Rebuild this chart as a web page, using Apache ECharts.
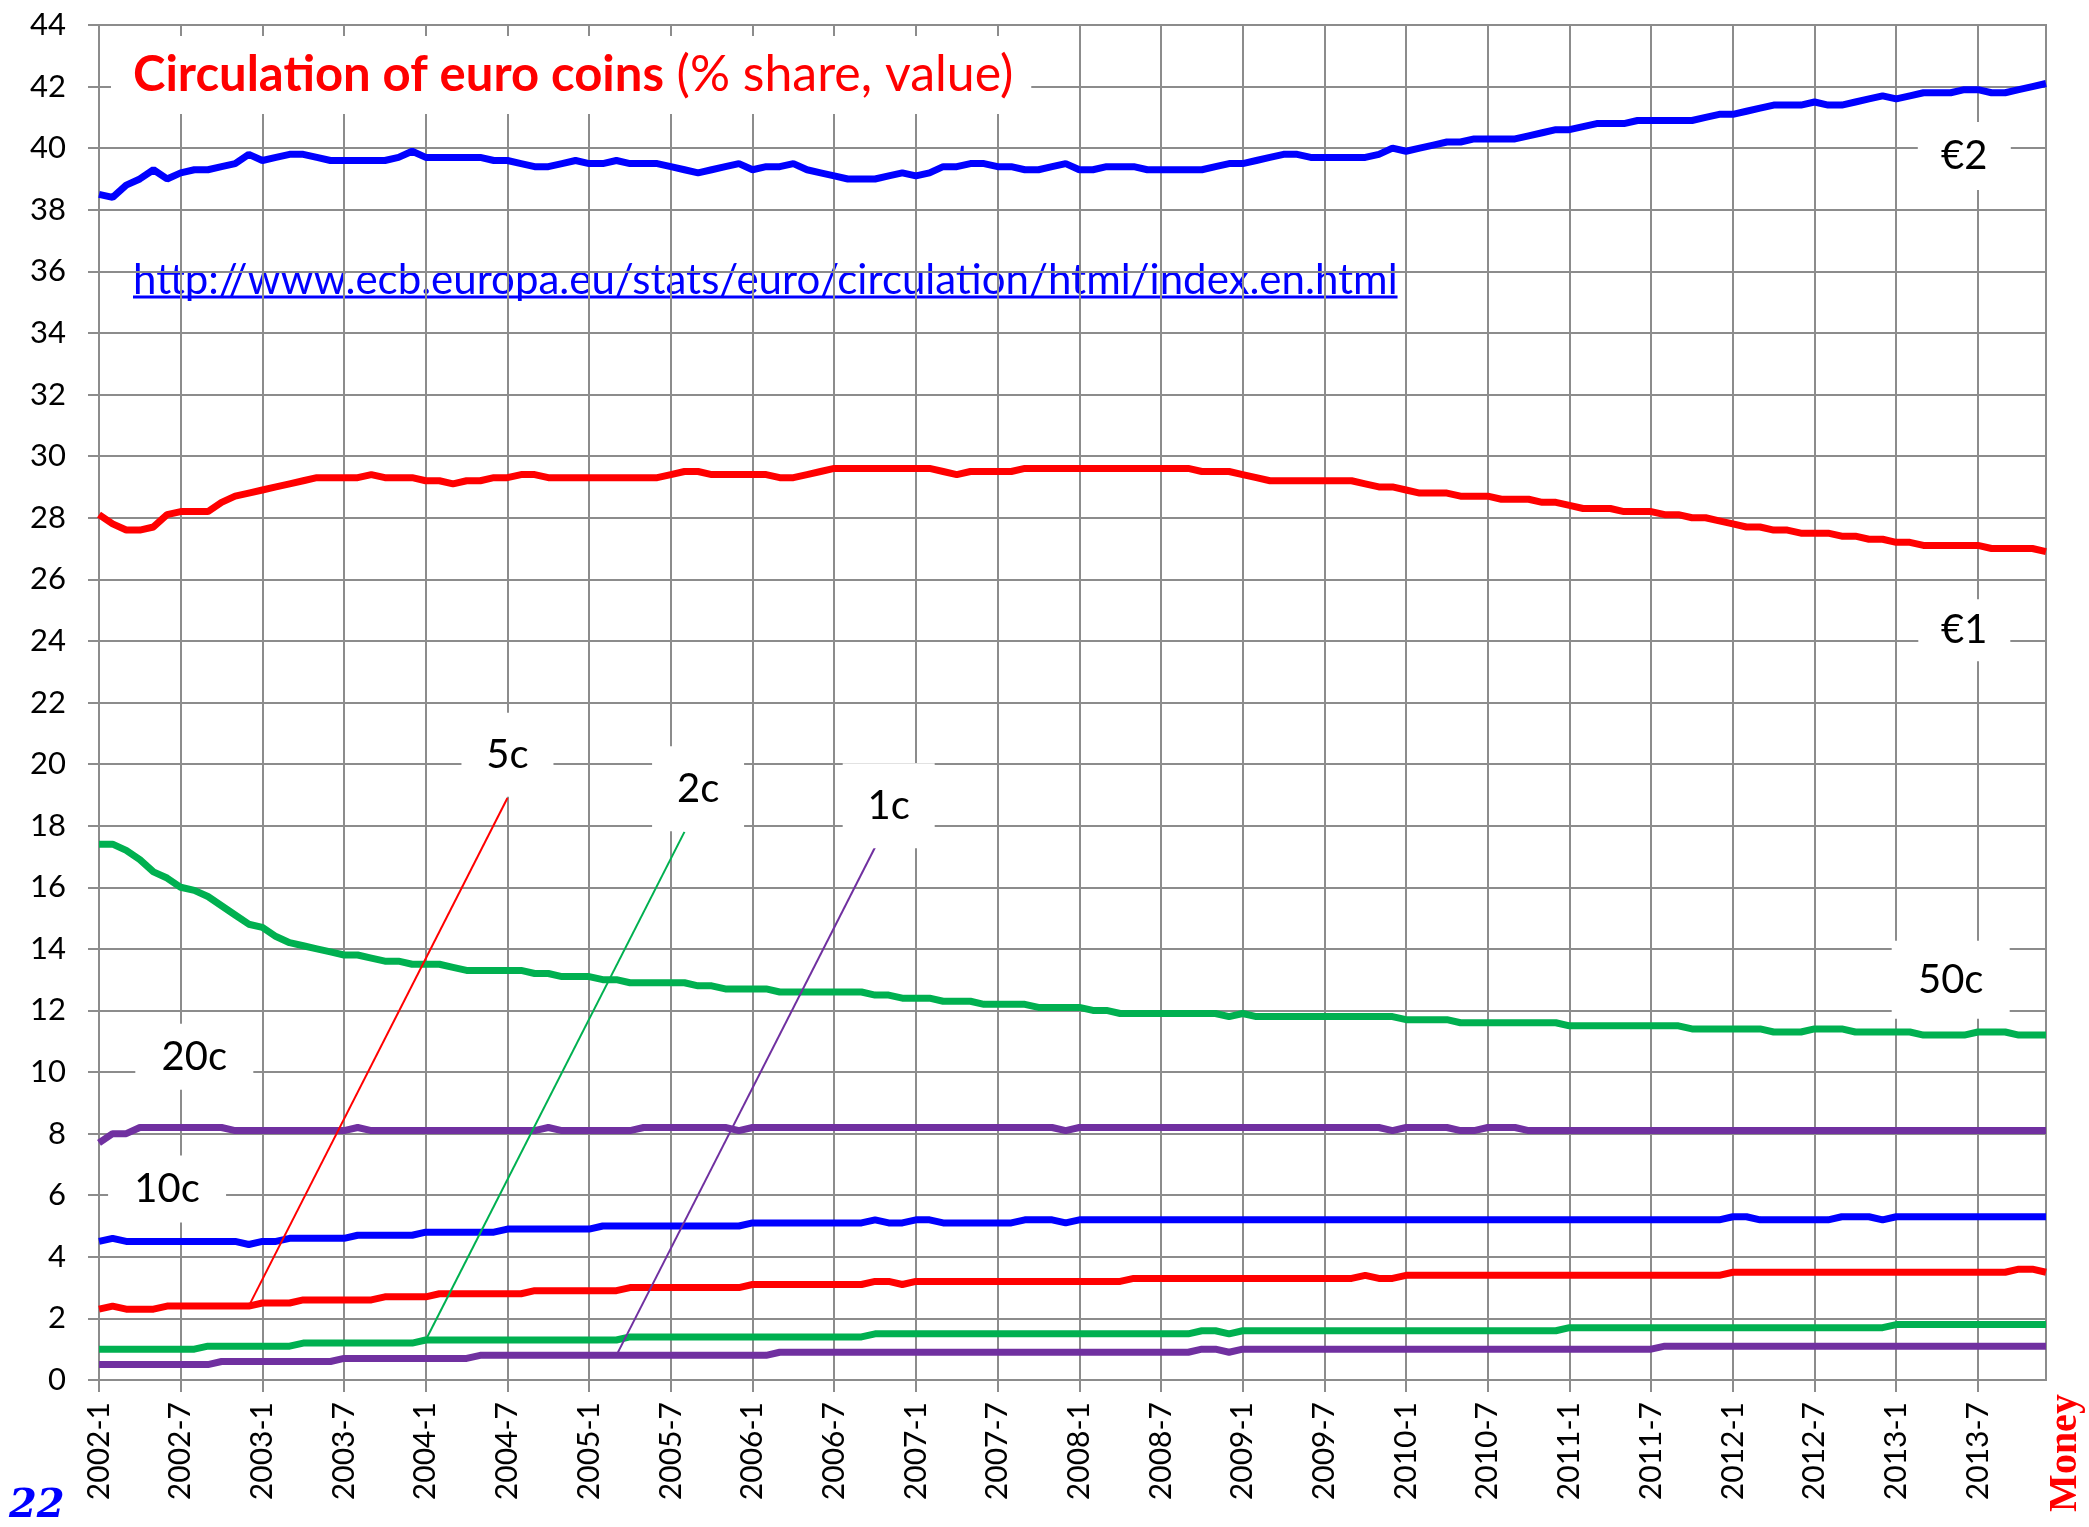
<!DOCTYPE html>
<html>
<head>
<meta charset="utf-8">
<title>Circulation of euro coins</title>
<script src="https://cdn.jsdelivr.net/npm/echarts@6/dist/echarts.min.js"></script>
<style>
html, body { margin: 0; padding: 0; background: #fff; }
#chart { width: 2089px; height: 1527px; }
</style>
</head>
<body>
<div id="chart"></div>
<script>
var years = [2002, 2003, 2004, 2005, 2006, 2007, 2008, 2009, 2010, 2011, 2012, 2013];
var months = [];
years.forEach(function (y) {
	for (var m = 1; m <= 12; m++) months.push(y + '-' + m);
});

var yMin = 0, yMax = 44, yStep = 2;

// % share of value, monthly 2002-1 .. 2013-12
var euro2 = [
	38.5, 38.4, 38.8, 39.0, 39.3, 39.0, 39.2, 39.3, 39.3, 39.4, 39.5, 39.8,
	39.6, 39.7, 39.8, 39.8, 39.7, 39.6, 39.6, 39.6, 39.6, 39.6, 39.7, 39.9,
	39.7, 39.7, 39.7, 39.7, 39.7, 39.6, 39.6, 39.5, 39.4, 39.4, 39.5, 39.6,
	39.5, 39.5, 39.6, 39.5, 39.5, 39.5, 39.4, 39.3, 39.2, 39.3, 39.4, 39.5,
	39.3, 39.4, 39.4, 39.5, 39.3, 39.2, 39.1, 39.0, 39.0, 39.0, 39.1, 39.2,
	39.1, 39.2, 39.4, 39.4, 39.5, 39.5, 39.4, 39.4, 39.3, 39.3, 39.4, 39.5,
	39.3, 39.3, 39.4, 39.4, 39.4, 39.3, 39.3, 39.3, 39.3, 39.3, 39.4, 39.5,
	39.5, 39.6, 39.7, 39.8, 39.8, 39.7, 39.7, 39.7, 39.7, 39.7, 39.8, 40.0,
	39.9, 40.0, 40.1, 40.2, 40.2, 40.3, 40.3, 40.3, 40.3, 40.4, 40.5, 40.6,
	40.6, 40.7, 40.8, 40.8, 40.8, 40.9, 40.9, 40.9, 40.9, 40.9, 41.0, 41.1,
	41.1, 41.2, 41.3, 41.4, 41.4, 41.4, 41.5, 41.4, 41.4, 41.5, 41.6, 41.7,
	41.6, 41.7, 41.8, 41.8, 41.8, 41.9, 41.9, 41.8, 41.8, 41.9, 42.0, 42.1
];
var euro1 = [
	28.1, 27.8, 27.6, 27.6, 27.7, 28.1, 28.2, 28.2, 28.2, 28.5, 28.7, 28.8,
	28.9, 29.0, 29.1, 29.2, 29.3, 29.3, 29.3, 29.3, 29.4, 29.3, 29.3, 29.3,
	29.2, 29.2, 29.1, 29.2, 29.2, 29.3, 29.3, 29.4, 29.4, 29.3, 29.3, 29.3,
	29.3, 29.3, 29.3, 29.3, 29.3, 29.3, 29.4, 29.5, 29.5, 29.4, 29.4, 29.4,
	29.4, 29.4, 29.3, 29.3, 29.4, 29.5, 29.6, 29.6, 29.6, 29.6, 29.6, 29.6,
	29.6, 29.6, 29.5, 29.4, 29.5, 29.5, 29.5, 29.5, 29.6, 29.6, 29.6, 29.6,
	29.6, 29.6, 29.6, 29.6, 29.6, 29.6, 29.6, 29.6, 29.6, 29.5, 29.5, 29.5,
	29.4, 29.3, 29.2, 29.2, 29.2, 29.2, 29.2, 29.2, 29.2, 29.1, 29.0, 29.0,
	28.9, 28.8, 28.8, 28.8, 28.7, 28.7, 28.7, 28.6, 28.6, 28.6, 28.5, 28.5,
	28.4, 28.3, 28.3, 28.3, 28.2, 28.2, 28.2, 28.1, 28.1, 28.0, 28.0, 27.9,
	27.8, 27.7, 27.7, 27.6, 27.6, 27.5, 27.5, 27.5, 27.4, 27.4, 27.3, 27.3,
	27.2, 27.2, 27.1, 27.1, 27.1, 27.1, 27.1, 27.0, 27.0, 27.0, 27.0, 26.9
];
var c50 = [
	17.4, 17.4, 17.2, 16.9, 16.5, 16.3, 16.0, 15.9, 15.7, 15.4, 15.1, 14.8,
	14.7, 14.4, 14.2, 14.1, 14.0, 13.9, 13.8, 13.8, 13.7, 13.6, 13.6, 13.5,
	13.5, 13.5, 13.4, 13.3, 13.3, 13.3, 13.3, 13.3, 13.2, 13.2, 13.1, 13.1,
	13.1, 13.0, 13.0, 12.9, 12.9, 12.9, 12.9, 12.9, 12.8, 12.8, 12.7, 12.7,
	12.7, 12.7, 12.6, 12.6, 12.6, 12.6, 12.6, 12.6, 12.6, 12.5, 12.5, 12.4,
	12.4, 12.4, 12.3, 12.3, 12.3, 12.2, 12.2, 12.2, 12.2, 12.1, 12.1, 12.1,
	12.1, 12.0, 12.0, 11.9, 11.9, 11.9, 11.9, 11.9, 11.9, 11.9, 11.9, 11.8,
	11.9, 11.8, 11.8, 11.8, 11.8, 11.8, 11.8, 11.8, 11.8, 11.8, 11.8, 11.8,
	11.7, 11.7, 11.7, 11.7, 11.6, 11.6, 11.6, 11.6, 11.6, 11.6, 11.6, 11.6,
	11.5, 11.5, 11.5, 11.5, 11.5, 11.5, 11.5, 11.5, 11.5, 11.4, 11.4, 11.4,
	11.4, 11.4, 11.4, 11.3, 11.3, 11.3, 11.4, 11.4, 11.4, 11.3, 11.3, 11.3,
	11.3, 11.3, 11.2, 11.2, 11.2, 11.2, 11.3, 11.3, 11.3, 11.2, 11.2, 11.2
];
var c20 = [
	7.7, 8.0, 8.0, 8.2, 8.2, 8.2, 8.2, 8.2, 8.2, 8.2, 8.1, 8.1,
	8.1, 8.1, 8.1, 8.1, 8.1, 8.1, 8.1, 8.2, 8.1, 8.1, 8.1, 8.1,
	8.1, 8.1, 8.1, 8.1, 8.1, 8.1, 8.1, 8.1, 8.1, 8.2, 8.1, 8.1,
	8.1, 8.1, 8.1, 8.1, 8.2, 8.2, 8.2, 8.2, 8.2, 8.2, 8.2, 8.1,
	8.2, 8.2, 8.2, 8.2, 8.2, 8.2, 8.2, 8.2, 8.2, 8.2, 8.2, 8.2,
	8.2, 8.2, 8.2, 8.2, 8.2, 8.2, 8.2, 8.2, 8.2, 8.2, 8.2, 8.1,
	8.2, 8.2, 8.2, 8.2, 8.2, 8.2, 8.2, 8.2, 8.2, 8.2, 8.2, 8.2,
	8.2, 8.2, 8.2, 8.2, 8.2, 8.2, 8.2, 8.2, 8.2, 8.2, 8.2, 8.1,
	8.2, 8.2, 8.2, 8.2, 8.1, 8.1, 8.2, 8.2, 8.2, 8.1, 8.1, 8.1,
	8.1, 8.1, 8.1, 8.1, 8.1, 8.1, 8.1, 8.1, 8.1, 8.1, 8.1, 8.1,
	8.1, 8.1, 8.1, 8.1, 8.1, 8.1, 8.1, 8.1, 8.1, 8.1, 8.1, 8.1,
	8.1, 8.1, 8.1, 8.1, 8.1, 8.1, 8.1, 8.1, 8.1, 8.1, 8.1, 8.1
];
var c10 = [
	4.5, 4.6, 4.5, 4.5, 4.5, 4.5, 4.5, 4.5, 4.5, 4.5, 4.5, 4.4,
	4.5, 4.5, 4.6, 4.6, 4.6, 4.6, 4.6, 4.7, 4.7, 4.7, 4.7, 4.7,
	4.8, 4.8, 4.8, 4.8, 4.8, 4.8, 4.9, 4.9, 4.9, 4.9, 4.9, 4.9,
	4.9, 5.0, 5.0, 5.0, 5.0, 5.0, 5.0, 5.0, 5.0, 5.0, 5.0, 5.0,
	5.1, 5.1, 5.1, 5.1, 5.1, 5.1, 5.1, 5.1, 5.1, 5.2, 5.1, 5.1,
	5.2, 5.2, 5.1, 5.1, 5.1, 5.1, 5.1, 5.1, 5.2, 5.2, 5.2, 5.1,
	5.2, 5.2, 5.2, 5.2, 5.2, 5.2, 5.2, 5.2, 5.2, 5.2, 5.2, 5.2,
	5.2, 5.2, 5.2, 5.2, 5.2, 5.2, 5.2, 5.2, 5.2, 5.2, 5.2, 5.2,
	5.2, 5.2, 5.2, 5.2, 5.2, 5.2, 5.2, 5.2, 5.2, 5.2, 5.2, 5.2,
	5.2, 5.2, 5.2, 5.2, 5.2, 5.2, 5.2, 5.2, 5.2, 5.2, 5.2, 5.2,
	5.3, 5.3, 5.2, 5.2, 5.2, 5.2, 5.2, 5.2, 5.3, 5.3, 5.3, 5.2,
	5.3, 5.3, 5.3, 5.3, 5.3, 5.3, 5.3, 5.3, 5.3, 5.3, 5.3, 5.3
];
var c5 = [
	2.3, 2.4, 2.3, 2.3, 2.3, 2.4, 2.4, 2.4, 2.4, 2.4, 2.4, 2.4,
	2.5, 2.5, 2.5, 2.6, 2.6, 2.6, 2.6, 2.6, 2.6, 2.7, 2.7, 2.7,
	2.7, 2.8, 2.8, 2.8, 2.8, 2.8, 2.8, 2.8, 2.9, 2.9, 2.9, 2.9,
	2.9, 2.9, 2.9, 3.0, 3.0, 3.0, 3.0, 3.0, 3.0, 3.0, 3.0, 3.0,
	3.1, 3.1, 3.1, 3.1, 3.1, 3.1, 3.1, 3.1, 3.1, 3.2, 3.2, 3.1,
	3.2, 3.2, 3.2, 3.2, 3.2, 3.2, 3.2, 3.2, 3.2, 3.2, 3.2, 3.2,
	3.2, 3.2, 3.2, 3.2, 3.3, 3.3, 3.3, 3.3, 3.3, 3.3, 3.3, 3.3,
	3.3, 3.3, 3.3, 3.3, 3.3, 3.3, 3.3, 3.3, 3.3, 3.4, 3.3, 3.3,
	3.4, 3.4, 3.4, 3.4, 3.4, 3.4, 3.4, 3.4, 3.4, 3.4, 3.4, 3.4,
	3.4, 3.4, 3.4, 3.4, 3.4, 3.4, 3.4, 3.4, 3.4, 3.4, 3.4, 3.4,
	3.5, 3.5, 3.5, 3.5, 3.5, 3.5, 3.5, 3.5, 3.5, 3.5, 3.5, 3.5,
	3.5, 3.5, 3.5, 3.5, 3.5, 3.5, 3.5, 3.5, 3.5, 3.6, 3.6, 3.5
];
var c2 = [
	1.0, 1.0, 1.0, 1.0, 1.0, 1.0, 1.0, 1.0, 1.1, 1.1, 1.1, 1.1,
	1.1, 1.1, 1.1, 1.2, 1.2, 1.2, 1.2, 1.2, 1.2, 1.2, 1.2, 1.2,
	1.3, 1.3, 1.3, 1.3, 1.3, 1.3, 1.3, 1.3, 1.3, 1.3, 1.3, 1.3,
	1.3, 1.3, 1.3, 1.4, 1.4, 1.4, 1.4, 1.4, 1.4, 1.4, 1.4, 1.4,
	1.4, 1.4, 1.4, 1.4, 1.4, 1.4, 1.4, 1.4, 1.4, 1.5, 1.5, 1.5,
	1.5, 1.5, 1.5, 1.5, 1.5, 1.5, 1.5, 1.5, 1.5, 1.5, 1.5, 1.5,
	1.5, 1.5, 1.5, 1.5, 1.5, 1.5, 1.5, 1.5, 1.5, 1.6, 1.6, 1.5,
	1.6, 1.6, 1.6, 1.6, 1.6, 1.6, 1.6, 1.6, 1.6, 1.6, 1.6, 1.6,
	1.6, 1.6, 1.6, 1.6, 1.6, 1.6, 1.6, 1.6, 1.6, 1.6, 1.6, 1.6,
	1.7, 1.7, 1.7, 1.7, 1.7, 1.7, 1.7, 1.7, 1.7, 1.7, 1.7, 1.7,
	1.7, 1.7, 1.7, 1.7, 1.7, 1.7, 1.7, 1.7, 1.7, 1.7, 1.7, 1.7,
	1.8, 1.8, 1.8, 1.8, 1.8, 1.8, 1.8, 1.8, 1.8, 1.8, 1.8, 1.8
];
var c1 = [
	0.5, 0.5, 0.5, 0.5, 0.5, 0.5, 0.5, 0.5, 0.5, 0.6, 0.6, 0.6,
	0.6, 0.6, 0.6, 0.6, 0.6, 0.6, 0.7, 0.7, 0.7, 0.7, 0.7, 0.7,
	0.7, 0.7, 0.7, 0.7, 0.8, 0.8, 0.8, 0.8, 0.8, 0.8, 0.8, 0.8,
	0.8, 0.8, 0.8, 0.8, 0.8, 0.8, 0.8, 0.8, 0.8, 0.8, 0.8, 0.8,
	0.8, 0.8, 0.9, 0.9, 0.9, 0.9, 0.9, 0.9, 0.9, 0.9, 0.9, 0.9,
	0.9, 0.9, 0.9, 0.9, 0.9, 0.9, 0.9, 0.9, 0.9, 0.9, 0.9, 0.9,
	0.9, 0.9, 0.9, 0.9, 0.9, 0.9, 0.9, 0.9, 0.9, 1.0, 1.0, 0.9,
	1.0, 1.0, 1.0, 1.0, 1.0, 1.0, 1.0, 1.0, 1.0, 1.0, 1.0, 1.0,
	1.0, 1.0, 1.0, 1.0, 1.0, 1.0, 1.0, 1.0, 1.0, 1.0, 1.0, 1.0,
	1.0, 1.0, 1.0, 1.0, 1.0, 1.0, 1.0, 1.1, 1.1, 1.1, 1.1, 1.1,
	1.1, 1.1, 1.1, 1.1, 1.1, 1.1, 1.1, 1.1, 1.1, 1.1, 1.1, 1.1,
	1.1, 1.1, 1.1, 1.1, 1.1, 1.1, 1.1, 1.1, 1.1, 1.1, 1.1, 1.1
];

var coins = [
	{ name: '€2', data: euro2, color: '#0000ff' },
	{ name: '€1', data: euro1, color: '#ff0000' },
	{ name: '50c', data: c50, color: '#00b050' },
	{ name: '20c', data: c20, color: '#7030a0' },
	{ name: '10c', data: c10, color: '#0000ff' },
	{ name: '5c', data: c5, color: '#ff0000' },
	{ name: '2c', data: c2, color: '#00b050' },
	{ name: '1c', data: c1, color: '#7030a0' }
];

// label boxes in the plot: [month index, value], box size in px
var tags = {
	'€2':  { at: [137, 39.75], box: [93, 68] },
	'€1':  { at: [137, 24.35], box: [92, 62] },
	'50c': { at: [136, 13.0], box: [118, 78] },
	'20c': { at: [7, 10.5], box: [118, 66] },
	'10c': { at: [5, 6.2], box: [118, 67] },
	'5c':  { at: [30, 20.3], box: [92, 84], from: 11, to: [30, 18.9] },
	'2c':  { at: [44, 19.2], box: [92, 85], from: 24, to: [43, 17.8] },
	'1c':  { at: [58, 18.65], box: [92, 85], from: 38, to: [57, 17.3] }
};

var url = 'http://www.ecb.europa.eu/stats/euro/circulation/html/index.en.html';
var gridColor = '#8c8c8c';
var font = 'Lato';

var chart = echarts.init(document.getElementById('chart'));

var series = coins.map(function (c) {
	var t = tags[c.name];
	var s = {
		name: c.name,
		type: 'line',
		data: c.data,
		symbol: 'none',
		silent: true,
		lineStyle: { color: c.color, width: 7 },
		markPoint: {
			silent: true,
			symbol: 'rect',
			symbolSize: t.box,
			itemStyle: { color: '#fff' },
			label: {
				show: true,
				position: 'inside',
				formatter: c.name,
				color: '#000',
				fontFamily: font,
				fontSize: 40
			},
			data: [{ coord: [months[t.at[0]], t.at[1]] }]
		}
	};
	if (t.from !== undefined) {
		s.markLine = {
			silent: true,
			symbol: ['none', 'none'],
			label: { show: false },
			lineStyle: { color: c.color, width: 2, type: 'solid' },
			data: [[
				{ coord: [months[t.from], c.data[t.from]] },
				{ coord: [months[t.to[0]], t.to[1]] }
			]]
		};
	}
	return s;
});

var meas = document.createElement('canvas').getContext('2d');
meas.font = '42px ' + font;
var urlWidth = meas.measureText(url).width;

var option = {
	animation: false,
	backgroundColor: '#fff',
	title: {
		text: '{b|Circulation of euro coins} {n|(% share, value)}',
		left: 111,
		top: 36,
		padding: [14, 18, 14, 22],
		backgroundColor: '#fff',
		textStyle: {
			fontFamily: font, fontSize: 49, fontWeight: 'normal', color: '#ff0000',
			rich: {
				b: { fontFamily: font, fontSize: 49, fontWeight: 'bold', color: '#ff0000' },
				n: { fontFamily: font, fontSize: 50, fontWeight: 'normal', color: '#ff0000' }
			}
		}
	},
	grid: {
		left: 99, right: 43, top: 25, bottom: 147,
		show: true, borderColor: gridColor, borderWidth: 2,
		outerBoundsMode: 'none'
	},
	xAxis: {
		type: 'category',
		data: months,
		boundaryGap: false,
		axisLine: { lineStyle: { color: gridColor, width: 2 } },
		axisTick: { interval: 5, length: 12, lineStyle: { color: gridColor, width: 2 } },
		axisLabel: {
			interval: 5, rotate: 90, margin: 22,
			color: '#000', fontFamily: font, fontSize: 30
		},
		splitLine: { show: true, interval: 5, lineStyle: { color: gridColor, width: 2 } }
	},
	yAxis: {
		type: 'value',
		min: yMin, max: yMax, interval: yStep,
		axisLine: { show: true, lineStyle: { color: gridColor, width: 2 } },
		axisTick: { show: true, length: 11, lineStyle: { color: gridColor, width: 2 } },
		axisLabel: { margin: 33, color: '#000', fontFamily: font, fontSize: 31 },
		splitLine: { lineStyle: { color: gridColor, width: 2 } }
	},
	graphic: [
		{
			type: 'group', left: 111, top: 238, z: 10,
			children: [
				{ type: 'rect', shape: { x: 0, y: 0, width: urlWidth + 59, height: 85 }, style: { fill: '#fff' } },
				{ type: 'text', x: 22, y: 42, style: { text: url, fill: '#0000ff', font: '42px ' + font, verticalAlign: 'middle' } },
				{ type: 'line', shape: { x1: 22, y1: 59, x2: 22 + urlWidth, y2: 59 }, style: { stroke: '#0000ff', lineWidth: 3 } }
			]
		},
		{
			type: 'text', left: 9, top: 1487,
			style: { text: '22', fill: '#0000ff', font: 'italic bold 40px "DejaVu Serif"' }
		},
		{
			type: 'text', x: 2066, y: 1453, rotation: Math.PI / 2,
			style: { text: 'Money', fill: '#ff0000', font: 'bold 40px "Liberation Serif"', align: 'center', verticalAlign: 'middle' }
		}
	],
	series: series
};

chart.setOption(option);
</script>
</body>
</html>
